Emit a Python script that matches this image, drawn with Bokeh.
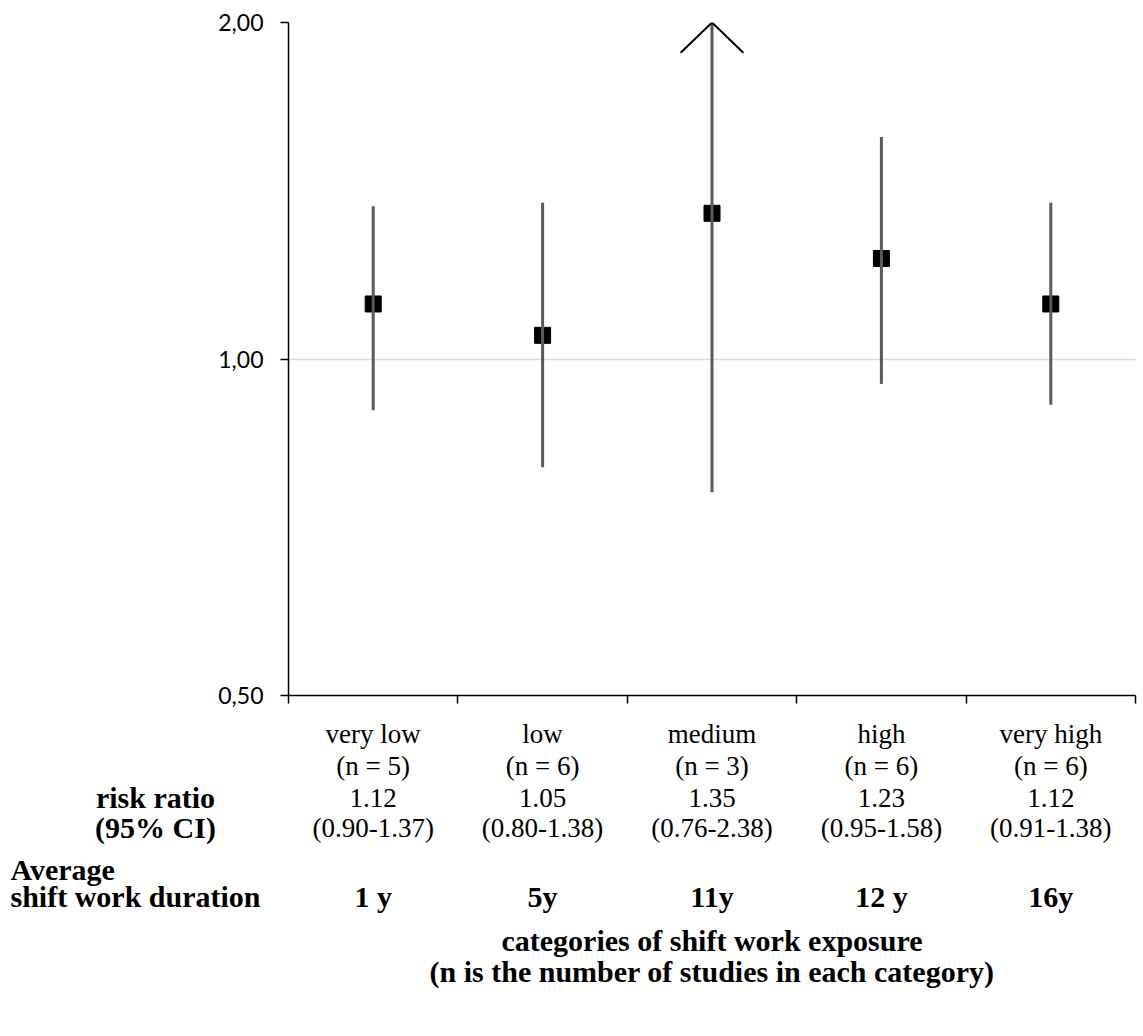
from bokeh.plotting import figure
from bokeh.models import Range1d, FixedTicker, ColumnDataSource, LinearScale
from bokeh.core.properties import value
from bokeh.embed import file_html
from bokeh.resources import INLINE

# ---- data ----
categories = ["very low", "low", "medium", "high", "very high"]
n_studies = [5, 6, 3, 6, 6]
risk_ratio = [1.12, 1.05, 1.35, 1.23, 1.12]
ci_low = [0.90, 0.80, 0.76, 0.95, 0.91]
ci_high = [1.37, 1.38, 2.38, 1.58, 1.38]
duration = ["1 y", "5y", "11y", "12 y", "16y"]
y_ticks = [0.5, 1.0, 2.0]
y_tick_labels = ["0,50", "1,00", "2,00"]

Y_MIN, Y_MAX = 0.5, 2.0
W, H = 1143, 1036
BL, BR, BT, BB = 288, 8, 22, 341
FW = W - BL - BR
N = len(categories)

xs = [i + 0.5 for i in range(N)]
src = ColumnDataSource(dict(
    x=xs, rr=risk_ratio, lo=ci_low,
    hi=[min(h, Y_MAX) for h in ci_high],
))

p = figure(width=W, height=H, x_range=Range1d(0, N),
           y_range=Range1d(Y_MIN, Y_MAX), y_axis_type="log",
           output_backend="svg", toolbar_location=None,
           min_border_left=BL, min_border_right=BR,
           min_border_top=BT, min_border_bottom=BB)
p.outline_line_color = None
p.background_fill_color = "white"
p.border_fill_color = "white"

# axes
p.yaxis.ticker = FixedTicker(ticks=y_ticks, minor_ticks=[])
p.yaxis.major_label_overrides = dict(zip(y_ticks, y_tick_labels))
p.yaxis.major_label_text_font = "Lato"
p.yaxis.major_label_text_font_size = "23px"
p.yaxis.major_label_text_color = "black"
p.yaxis.major_tick_out = 8
p.yaxis.major_tick_in = 0
p.yaxis.major_label_standoff = 17
p.yaxis.axis_line_width = 1.5
p.yaxis.major_tick_line_width = 1.5
p.yaxis.axis_line_color = "black"
p.yaxis.major_tick_line_color = "black"

p.xaxis.ticker = FixedTicker(ticks=list(range(N + 1)), minor_ticks=[])
p.xaxis.major_label_text_color = None
p.xaxis.major_label_text_font_size = "1px"
p.xaxis.major_label_standoff = 0
p.xaxis.major_tick_out = 8
p.xaxis.major_tick_in = 0
p.xaxis.axis_line_width = 1.5
p.xaxis.major_tick_line_width = 1.5
p.xaxis.axis_line_color = "black"
p.xaxis.major_tick_line_color = "black"

p.xgrid.visible = False
p.ygrid.ticker = FixedTicker(ticks=[1.0], minor_ticks=[])
p.ygrid.grid_line_color = "#d9d9d9"
p.ygrid.grid_line_width = 1.5

# markers then CI lines on top
p.scatter("x", "rr", source=src, marker="square", size=16,
          fill_color="black", line_color="black")
p.segment(x0="x", y0="lo", x1="x", y1="hi", source=src,
          line_color="#5a5a5a", line_width=3)

# open arrow head for truncated CIs
f = (Y_MAX / Y_MIN) ** (-0.045)
ax, ay = [], []
for x, h in zip(xs, ci_high):
    if h > Y_MAX:
        ax.append([x - 0.185, x, x + 0.185])
        ay.append([Y_MAX * f, Y_MAX, Y_MAX * f])
p.multi_line(ax, ay, line_color="black", line_width=2)

# ---- text table below the chart (pixel-row range, unclipped overlay) ----
p.extra_y_ranges = {"rows": Range1d(H - BB, BT)}
p.extra_y_scales = {"rows": LinearScale()}
cw = FW / N

SERIF = "Liberation Serif"

rows = dict(x=[], y=[], text=[], style=[], align=[], size=[])

def add(text, x, py, bold=False, align="center", screen_x=False):
    xv = (x - BL) / cw if screen_x else x
    rows["x"].append(xv)
    rows["y"].append(py)
    rows["text"].append(text)
    rows["style"].append("bold" if bold else "normal")
    rows["align"].append(align)
    rows["size"].append("30px" if bold else "27px")

for x, c, n, r, lo, hi, d in zip(xs, categories, n_studies, risk_ratio,
                                 ci_low, ci_high, duration):
    add(c, x, 733)
    add(f"(n = {n})", x, 765)
    add(f"{r:.2f}", x, 797)
    add(f"({lo:.2f}-{hi:.2f})", x, 827)
    add(d, x, 896, bold=True)

add("risk ratio", 155, 797, bold=True, screen_x=True)
add("(95% CI)", 155, 827, bold=True, screen_x=True)
add("Average", 10, 869, bold=True, align="left", screen_x=True)
add("shift work duration", 10, 896, bold=True, align="left", screen_x=True)
mid = N / 2
add("categories of shift work exposure", mid, 940, bold=True)
add("(n is the number of studies in each category)", mid, 971, bold=True)

p.text(x="x", y="y", text="text", source=ColumnDataSource(rows),
       y_range_name="rows", level="overlay",
       text_font=value(SERIF), text_font_size="size",
       text_font_style="style", text_align="align",
       text_baseline="middle", text_color="black")

open("out.html", "w").write(file_html(p, INLINE))
